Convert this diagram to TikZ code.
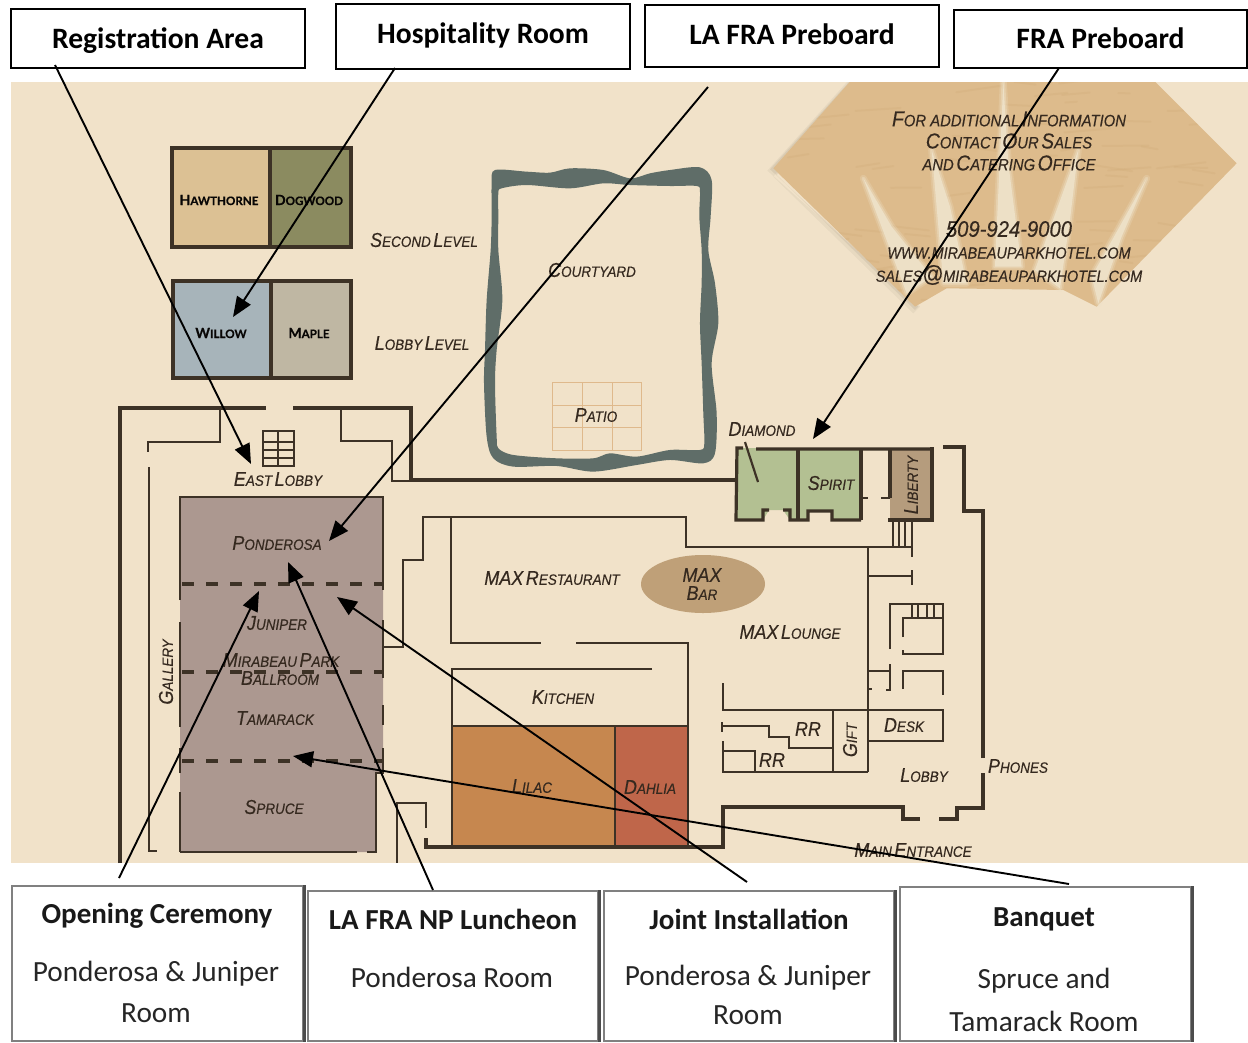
\documentclass[tikz,border=0pt]{standalone}
\usepackage{fontspec}
\usetikzlibrary{arrows.meta}
\setmainfont{Carlito}
\newfontfamily\mapf[FakeStretch=0.9,FakeBold=0.35]{Liberation Sans}
\newfontfamily\roomf[FakeBold=0.5]{Lato}
\definecolor{paper}{HTML}{F1E2C9}
\definecolor{sand}{HTML}{DDBB8C}
\definecolor{sanddk}{HTML}{CDA873}
\definecolor{wedge}{HTML}{EDE0C6}
\definecolor{wallc}{HTML}{3D3226}
\definecolor{ink}{HTML}{35291F}
\definecolor{ring}{HTML}{5F6D68}
\definecolor{ball}{HTML}{AC9890}
\definecolor{hawth}{HTML}{DCC194}
\definecolor{dogw}{HTML}{8B8B60}
\definecolor{willow}{HTML}{A7B4BA}
\definecolor{maple}{HTML}{BFB7A3}
\definecolor{green1}{HTML}{B3C092}
\definecolor{liberty}{HTML}{B59C7D}
\definecolor{maxbar}{HTML}{BFA078}
\definecolor{lilac}{HTML}{C6874F}
\definecolor{dahlia}{HTML}{BF664A}
\definecolor{patio}{HTML}{DFB98C}
\newcommand\SCx[2]{{\fontsize{20}{22}\selectfont #1}{\fontsize{15}{22}\selectfont #2}}
\newcommand\SCm[2]{{\fontsize{21.5}{24}\selectfont #1}{\fontsize{16.5}{24}\selectfont #2}}
\newcommand\WS{\hspace{2.5pt}}
\newcommand\softwedge[1]{%
  \draw[wedge,line width=7pt,opacity=0.25,line join=round] #1 -- cycle;
  \draw[wedge,line width=3.5pt,opacity=0.45,line join=round] #1 -- cycle;
  \fill[wedge] #1 -- cycle;}
\tikzset{
  wall/.style={draw=wallc,line width=2.9pt,line cap=butt,line join=miter},
  outerwall/.style={draw=wallc,line width=3.8pt,line cap=butt,line join=miter},
  thinwall/.style={draw=wallc,line width=2.2pt,line cap=butt,line join=miter},
  room/.style={draw=wallc,line width=3.6pt,line join=miter},
  dashwall/.style={draw=wallc,line width=3.2pt,dash pattern=on 12pt off 12pt},
  maplabel/.style={inner sep=0pt,text=ink,font=\mapf\itshape,align=center},
  roomlabel/.style={inner sep=0pt,text=black!85!ink,font=\roomf\bfseries\fontsize{14}{16}\selectfont},
  topbox/.style={draw=black,line width=2pt,fill=white,inner sep=0pt,font=\bfseries\fontsize{29.6}{32}\selectfont,text=black},
  evbox/.style={draw=black!50,line width=2pt,fill=white,inner sep=0pt},
  evedge/.style={draw=black!70,line width=3pt},
  evhead/.style={inner sep=0pt,font=\bfseries\fontsize{29}{32}\selectfont,text=black!90},
  evtext/.style={inner sep=0pt,font=\fontsize{29.3}{32}\selectfont,text=black!85},
  conn/.style={draw=black,line width=1.9pt,-{Triangle[length=20pt,width=16pt]}}
}
\begin{document}
\begin{tikzpicture}[x=1pt,y=-1pt]
\useasboundingbox (0,0) rectangle (1248,1042);
\fill[white] (0,0) rectangle (1248,1042);
% map ground
\fill[paper] (11,82) rectangle (1248,863);
% sand diamond
\begin{scope}
\clip (11,82) rectangle (1248,863);
\begin{scope}[shift={(760pt,-80pt)},x=0.3333pt,y=-0.3333pt]
  \fill[wallc,opacity=0.05] (22,272) -- (262,5) -- (270,5) -- (40,290) -- (460,700) -- (480,680) -- cycle;
  \fill[wallc,opacity=0.08] (30,268) -- (268,5) -- (285,5) -- (50,285) -- (465,690) -- (475,680) -- cycle;
  \begin{scope}
    \clip (40,265) -- (270,5) -- (1185,5) -- (1430,250) -- (1010,680) -- (910,630) -- (560,625) -- (465,680) -- cycle;
    \fill[sand] (0,0) rectangle (1464,720);
    \pgfmathsetseed{7}
    \foreach \k in {1,...,90}{
      \pgfmathsetmacro{\px}{rnd*1400}
      \pgfmathsetmacro{\py}{rnd*680}
      \pgfmathsetmacro{\pl}{30+rnd*120}
      \pgfmathsetmacro{\pa}{rnd*20-10}
      \draw[sanddk,line width=2pt,opacity=0.22,line cap=round] (\px,\py) -- ++(\pa:\pl);
    }
  \end{scope}
  \softwedge{(310,295) -- (440,640) -- (515,590) -- (395,440)}
  \softwedge{(515,210) -- (550,610) -- (620,610) -- (570,380)}
  \softwedge{(730,5) -- (705,560) -- (785,560) -- (745,250)}
  \softwedge{(955,210) -- (825,570) -- (900,625) -- (930,420)}
  \softwedge{(1160,295) -- (995,590) -- (1015,670) -- (1085,470)}
\end{scope}
\end{scope}
% courtyard ring
\begin{scope}[shift={(470pt,-150pt)},x=0.3333pt,y=-0.3333pt]
  \fill[ring,even odd rule]
   plot[smooth cycle,tension=0.5] coordinates {(75,60)(170,65)(240,68)(300,55)(400,60)(480,85)(540,70)(600,60)(690,52)(725,90)(722,200)(715,300)(735,400)(745,520)(725,640)(740,790)(735,910)(700,940)(600,930)(500,945)(370,965)(260,948)(130,950)(70,925)(50,860)(42,700)(45,600)(50,450)(62,300)(65,200)(65,100)}
   plot[smooth cycle,tension=0.5] coordinates {(95,115)(170,105)(300,115)(400,100)(480,105)(600,108)(680,108)(690,125)(688,200)(695,300)(695,400)(690,520)(695,640)(700,790)(703,880)(690,900)(600,900)(500,920)(420,910)(370,925)(260,925)(130,915)(85,895)(80,860)(75,700)(80,600)(97,450)(85,300)(85,200)(85,130)};
\end{scope}
% patio
\draw[patio,line width=1pt] (552,382) rectangle (641,450)
  (582,382) -- (582,450) (612,382) -- (612,450) (552,405) -- (641,405) (552,427) -- (641,427);
% level rooms
\fill[hawth] (172,148) rectangle (269,247);
\fill[dogw] (269,148) rectangle (351,247);
\fill[willow] (173,281) rectangle (271,378);
\fill[maple] (271,281) rectangle (351,378);
\draw[room] (172,148) rectangle (351,247) (270,148) -- (270,247);
\draw[room] (173,281) rectangle (351,378) (271,281) -- (271,378);
% ballroom
\fill[ball] (180,497) -- (383,497) -- (383,773) -- (376,773) -- (376,852) -- (180,852) -- cycle;
\draw[outerwall] (120,863) -- (120,408) -- (266,408);
\draw[outerwall] (293,408) -- (411,408) -- (411,480) -- (737,480);
\draw[wall] (220,408) -- (220,442) -- (148,442) -- (148,452);
\draw[wall] (149,467) -- (149,851) -- (157,851);
\draw[wall] (341,408) -- (341,441) -- (392,441) -- (392,481) -- (411,481);
\draw[wall] (180,852) -- (180,792) (180,773) -- (180,748) (180,727) -- (180,622) (180,600) -- (180,497) -- (383,497) -- (383,590)
  (383,620) -- (383,678) (383,705) -- (383,725) (383,748) -- (383,773) -- (376,773) -- (376,852) -- (367,852) (357,852) -- (180,852);
\draw[dashwall] (182,584) -- (383,584);
\draw[dashwall] (182,672) -- (383,672);
\draw[dashwall] (182,761) -- (383,761);
% restaurant, kitchen
\fill[lilac] (452,726) rectangle (615,846);
\fill[dahlia] (615,726) rectangle (688,846);
\draw[wall] (383,647) -- (403,647) -- (403,560) -- (423,560) -- (423,517) -- (686,517) -- (686,547) -- (912,547);
\draw[wall] (451,517) -- (451,643) -- (541,643);
\draw[wall] (576,643) -- (688,643) -- (688,847);
\draw[wall] (652,669) -- (452,669) -- (452,847);
\draw[wall] (452,726) -- (688,726);
\draw[wall] (615,726) -- (615,847);
\draw[outerwall] (426,838) -- (426,847) -- (723,847) -- (723,807) -- (903,807) -- (903,819) -- (920,819);
\draw[wall] (426,828) -- (426,803) -- (397,803) -- (397,863);
\draw[outerwall] (939,819) -- (957,819) -- (957,808) -- (983,808) -- (983,773);
\draw[outerwall] (983,758) -- (983,511) -- (964,511) -- (964,447) -- (943,447);
% diamond / spirit / liberty
\fill[green1] (737,448) -- (861,448) -- (861,520) -- (832,520) -- (832,511) -- (808,511) -- (808,520) -- (790,520) -- (783,510) -- (769,510) -- (763,520) -- (737,520) -- cycle;
\fill[liberty] (890,450) rectangle (932,520);
\draw[wall,line width=3.2pt] (743,448) -- (737,448) -- (736,520) -- (763,520) -- (763,510) -- (769,510)
  (783,510) -- (790,510) -- (790,520) -- (808,520) -- (808,511) -- (832,511) -- (832,520) -- (861,520)
  (756,449) -- (932,449);
\draw[wall,line width=3.2pt] (798,450) -- (798,521) (861,449) -- (861,520) (890,450) -- (890,498);
\draw[wall,line width=4.5pt] (932,447) -- (932,522);
\draw[wall,line width=3.5pt] (888,520) -- (933,520);
\draw[thinwall] (745,442) -- (758,482);
\draw[wall] (861,498) -- (868,498) (881,498) -- (890,498);
\draw[thinwall] (893,521) -- (893,547) (899,521) -- (899,547) (905,521) -- (905,547) (912,521) -- (912,557);
\draw[wall] (868,547) -- (868,772);
\draw[wall] (868,576) -- (912,576) (912,570) -- (912,585);
\draw[wall] (890,649) -- (890,604) -- (943,604) -- (943,654) -- (903,654) -- (903,650);
\draw[wall] (903,637) -- (903,618) -- (943,618);
\draw[thinwall] (912,604) -- (912,618) (918,604) -- (918,618) (927,604) -- (927,618) (934,604) -- (934,618);
\draw[wall] (868,671) -- (890,671) (890,664) -- (890,690) -- (886,690) (868,689) -- (872,689);
\draw[wall] (903,689) -- (903,671) -- (943,671) -- (943,695);
\draw[wall] (723,683) -- (723,710) -- (943,710) -- (943,741) -- (868,741);
\draw[wall] (833,710) -- (833,772);
\draw[wall] (723,741) -- (723,772) -- (868,772);
\draw[wall] (722,726) -- (769,726) -- (769,737) -- (789,737) -- (789,748) -- (833,748);
\draw[wall] (722,722) -- (722,732);
\draw[wall] (723,751) -- (755,751) -- (755,772);
% east lobby grid
\draw[wall] (263,431) rectangle (294,466) (278,431) -- (278,466) (263,442) -- (294,442) (263,450) -- (294,450) (263,458) -- (294,458);
% max bar
\fill[maxbar] (703,584) ellipse [x radius=62,y radius=29];
% labels
\node[roomlabel] (hawthorne) at (219,200) {H{\fontsize{11.6}{16}\selectfont AWTHORNE}};
\node[roomlabel] (dogwood) at (309,200) {D{\fontsize{11.6}{16}\selectfont OGWOOD}};
\node[roomlabel] (willowl) at (221,333) {W{\fontsize{11.6}{16}\selectfont ILLOW}};
\node[roomlabel] (maplel) at (309,333) {M{\fontsize{11.6}{16}\selectfont APLE}};
\node[maplabel] (second) at (424,240) {\SCx{S}{ECOND}\WS\SCx{L}{EVEL}};
\node[maplabel] (lobbyl) at (422,343) {\SCx{L}{OBBY}\WS\SCx{L}{EVEL}};
\node[maplabel] (courty) at (592,270) {\SCx{C}{OURTYARD}};
\node[maplabel] (patiol) at (596,415) {\SCx{P}{ATIO}};
\node[maplabel] (diamondl) at (762,429) {\SCx{D}{IAMOND}};
\node[maplabel] (spiritl) at (831,483) {\SCx{S}{PIRIT}};
\node[maplabel,rotate=90] (libertyl) at (911,485) {\SCx{L}{IBERTY}};
\node[maplabel] (eastl) at (278,479) {\SCx{E}{AST}\WS\SCx{L}{OBBY}};
\node[maplabel] (ponder) at (277,543) {\SCx{P}{ONDEROSA}};
\node[maplabel] (juniper) at (277,623) {\SCx{J}{UNIPER}};
\node[maplabel] (mirab) at (281,660) {\SCx{M}{IRABEAU}\WS\SCx{P}{ARK}};
\node[maplabel] (ballr) at (280,678) {\SCx{B}{ALLROOM}};
\node[maplabel] (tamar) at (275,718) {\SCx{T}{AMARACK}};
\node[maplabel] (spruce) at (274,807) {\SCx{S}{PRUCE}};
\node[maplabel,rotate=90] (gallery) at (166,672) {\SCx{G}{ALLERY}};
\node[maplabel] (maxr) at (552,578) {\SCx{MAX}{}\WS\SCx{R}{ESTAURANT}};
\node[maplabel] (maxb1) at (702,575) {\SCx{MAX}{}};
\node[maplabel] (maxb2) at (702,593) {\SCx{B}{AR}};
\node[maplabel] (maxl) at (790,632) {\SCx{MAX}{}\WS\SCx{L}{OUNGE}};
\node[maplabel] (kitchen) at (563,697) {\SCx{K}{ITCHEN}};
\node[maplabel] (lilacl) at (532,786) {\SCx{L}{ILAC}};
\node[maplabel] (dahlial) at (650,787) {\SCx{D}{AHLIA}};
\node[maplabel] (rra) at (808,729) {\SCx{RR}{}};
\node[maplabel] (rrb) at (772,760) {\SCx{RR}{}};
\node[maplabel,rotate=90] (giftl) at (850,740) {\SCx{G}{IFT}};
\node[maplabel] (desk) at (904,725) {\SCx{D}{ESK}};
\node[maplabel] (lobby) at (924,775) {\SCx{L}{OBBY}};
\node[maplabel] (phones) at (1018,766) {\SCx{P}{HONES}};
\node[maplabel] (mainent) at (913,850) {\SCx{M}{AIN}\WS\SCx{E}{NTRANCE}};
\node[maplabel] (info1) at (1009,119) {\SCm{F}{OR ADDITIONAL}\WS\SCm{I}{NFORMATION}};
\node[maplabel] (info2) at (1009,141) {\SCm{C}{ONTACT}\WS\SCm{O}{UR}\WS\SCm{S}{ALES}};
\node[maplabel] (info3) at (1009,163) {\SCm{}{AND}\WS\SCm{C}{ATERING}\WS\SCm{O}{FFICE}};
\node[maplabel,font=\mapf\itshape\fontsize{22.5}{24}\selectfont] (info4) at (1009,229) {509-924-9000};
\node[maplabel,font=\mapf\itshape\fontsize{16}{18}\selectfont] (info5) at (1009,253) {WWW.MIRABEAUPARKHOTEL.COM};
\node[maplabel,font=\mapf\itshape\fontsize{16}{18}\selectfont] (info6) at (1009,275) {SALES{\fontsize{23}{18}\selectfont @}MIRABEAUPARKHOTEL.COM};
% top boxes
\node[topbox,minimum width=294pt,minimum height=59pt,text height=23pt,text depth=4pt] (reg) at (158,38.5) {Registration Area};
\node[topbox,minimum width=294pt,minimum height=65pt,text height=20pt,text depth=7pt] (hosp) at (483,36.5) {Hospitality Room};
\node[topbox,minimum width=294pt,minimum height=62pt,text height=22pt,text depth=5pt] (lafra) at (792,36) {LA FRA Preboard};
\node[topbox,minimum width=293pt,minimum height=58pt,text height=23pt,text depth=4pt] (fra) at (1100.5,39) {FRA Preboard};
% bottom boxes
\begin{scope}
\clip (0,0) rectangle (1248,1042);
\node[evbox,minimum width=291pt,minimum height=155pt,anchor=north west] (ev1) at (11,885) {};
\node[evbox,minimum width=290pt,minimum height=150pt,anchor=north west] (ev2) at (307,890) {};
\node[evbox,minimum width=290pt,minimum height=150pt,anchor=north west] (ev3) at (603,890) {};
\node[evbox,minimum width=291pt,minimum height=154pt,anchor=north west] (ev4) at (899,886) {};
\draw[evedge] (ev1.north east) -- (ev1.south east);
\draw[evedge] (ev2.north east) -- (ev2.south east);
\draw[evedge] (ev3.north east) -- (ev3.south east);
\draw[evedge] (ev4.north east) -- (ev4.south east);
\end{scope}
\node[evhead] (ev1a) at (157,916) {Opening Ceremony};
\node[evtext] (ev1b) at (156,974) {Ponderosa \& Juniper};
\node[evtext] (ev1c) at (156,1013) {Room};
\node[evhead] (ev2a) at (453,919) {LA FRA NP Luncheon};
\node[evtext] (ev2b) at (452,977) {Ponderosa Room};
\node[evhead] (ev3a) at (749,919) {Joint Installation};
\node[evtext] (ev3b) at (748,978) {Ponderosa \& Juniper};
\node[evtext] (ev3c) at (748,1015) {Room};
\node[evhead] (ev4a) at (1044,919) {Banquet};
\node[evtext] (ev4b) at (1044,981) {Spruce and};
\node[evtext] (ev4c) at (1044,1021) {Tamarack Room};
% connector ends
\coordinate (s1) at (55,65);   \coordinate (t1) at (251,464);
\coordinate (s2) at (395,68);  \coordinate (t2) at (233,317);
\coordinate (s3) at (708,87);  \coordinate (t3) at (329,541);
\coordinate (s4) at (1059,68); \coordinate (t4) at (813,439);
\coordinate (s5) at (119,878); \coordinate (t5) at (259,591);
\coordinate (s6) at (433,890); \coordinate (t6) at (288,562);
\coordinate (s7) at (747,882); \coordinate (t7) at (337,597);
\coordinate (s8) at (1069,884);\coordinate (t8) at (293,756);
\draw[conn] (s1) -- (t1);
\draw[conn] (s2) -- (t2);
\draw[conn] (s3) -- (t3);
\draw[conn] (s4) -- (t4);
\draw[conn] (s5) -- (t5);
\draw[conn] (s6) -- (t6);
\draw[conn] (s7) -- (t7);
\draw[conn] (s8) -- (t8);
\end{tikzpicture}
\end{document}
